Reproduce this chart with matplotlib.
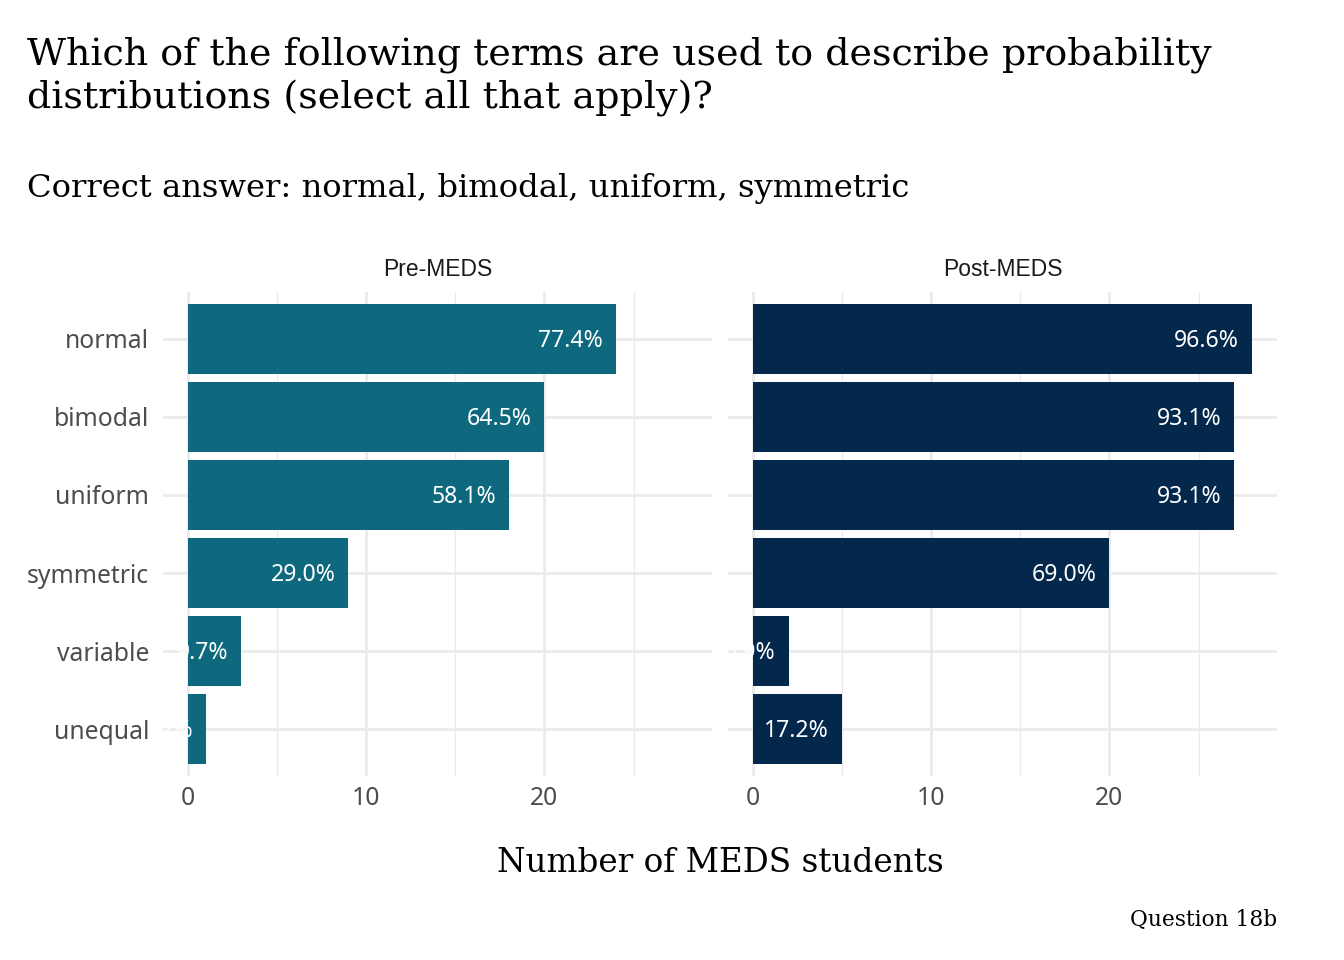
import matplotlib
matplotlib.use("Agg")
import matplotlib.pyplot as plt

terms = ["normal", "bimodal", "uniform", "symmetric", "variable", "unequal"]
pre_counts = [24, 20, 18, 9, 3, 1]
post_counts = [28, 27, 27, 20, 2, 5]
pre_pct = ["77.4%", "64.5%", "58.1%", "29.0%", "9.7%", "3.2%"]
post_pct = ["96.6%", "93.1%", "93.1%", "69.0%", "6.9%", "17.2%"]
panels = ["Pre-MEDS", "Post-MEDS"]
colors = ["#0F697E", "#03284C"]
x_ticks = [0, 10, 20]
x_minor = [5, 15, 25]

title = "Which of the following terms are used to describe probability\ndistributions (select all that apply)?"
subtitle = "Correct answer: normal, bimodal, uniform, symmetric"
xlabel = "Number of MEDS students"
caption = "Question 18b"

W, H = 1344, 960
fig = plt.figure(figsize=(W / 100, H / 100), dpi=100)
fig.patch.set_facecolor("white")

serif = ["DejaVu Serif"]
sans = ["Noto Sans", "DejaVu Sans"]

xmax = max(max(pre_counts), max(post_counts))
xlim = (-0.05 * xmax, xmax * 1.05)
n = len(terms)
ypos = list(range(n))[::-1]

lefts = [163, 728]
pw = 549
top, bottom = 292, 776

for i, (name, counts, pcts, col) in enumerate(zip(panels, [pre_counts, post_counts], [pre_pct, post_pct], colors)):
    ax = fig.add_axes([lefts[i] / W, 1 - bottom / H, pw / W, (bottom - top) / H])
    ax.set_facecolor("white")
    for s in ax.spines.values():
        s.set_visible(False)
    ax.set_xlim(*xlim)
    ax.set_ylim(-0.6, n - 0.4)
    ax.set_xticks(x_ticks)
    ax.set_xticks(x_minor, minor=True)
    ax.set_yticks(ypos)
    ax.set_yticklabels(terms if i == 0 else [""] * n)
    ax.grid(True, which="major", color="#EBEBEB", linewidth=2.0, zorder=0)
    ax.grid(True, which="minor", axis="x", color="#EBEBEB", linewidth=1.0, zorder=0)
    ax.set_axisbelow(True)
    ax.tick_params(axis="both", which="both", length=0)
    ax.tick_params(axis="x", pad=7, labelsize=17.8, labelcolor="#4D4D4D")
    ax.tick_params(axis="y", pad=10, labelsize=17.8, labelcolor="#4D4D4D")
    for lab in ax.get_xticklabels() + ax.get_yticklabels():
        lab.set_family(sans)
    ax.barh(ypos, counts, height=0.9, color=col, zorder=2)
    for y, c, p in zip(ypos, counts, pcts):
        ax.annotate(p, xy=(c, y), xytext=(-9.4, -1.5), textcoords="offset points",
                    ha="right", va="center", color="white", fontsize=16.6,
                    family=sans, zorder=3, annotation_clip=False, clip_on=True)
    fig.text((lefts[i] + pw / 2) / W, 1 - 270 / H, name, ha="center", va="center",
             fontsize=16.5, family=["Liberation Sans"], color="#1A1A1A")

fig.text(27 / W, 1 - 77 / H, title, ha="left", va="center", fontsize=27.4,
         family=serif, color="black", linespacing=1.23)
fig.text(27 / W, 1 - 189 / H, subtitle, ha="left", va="center", fontsize=23.2,
         family=serif, color="black")
fig.text(720 / W, 1 - 863 / H, xlabel, ha="center", va="center", fontsize=23.5,
         family=serif, color="black")
fig.text(1277 / W, 1 - 920 / H, caption, ha="right", va="center", fontsize=15.7,
         family=serif, color="black")

fig.savefig("out.png", dpi=100, facecolor="white")
